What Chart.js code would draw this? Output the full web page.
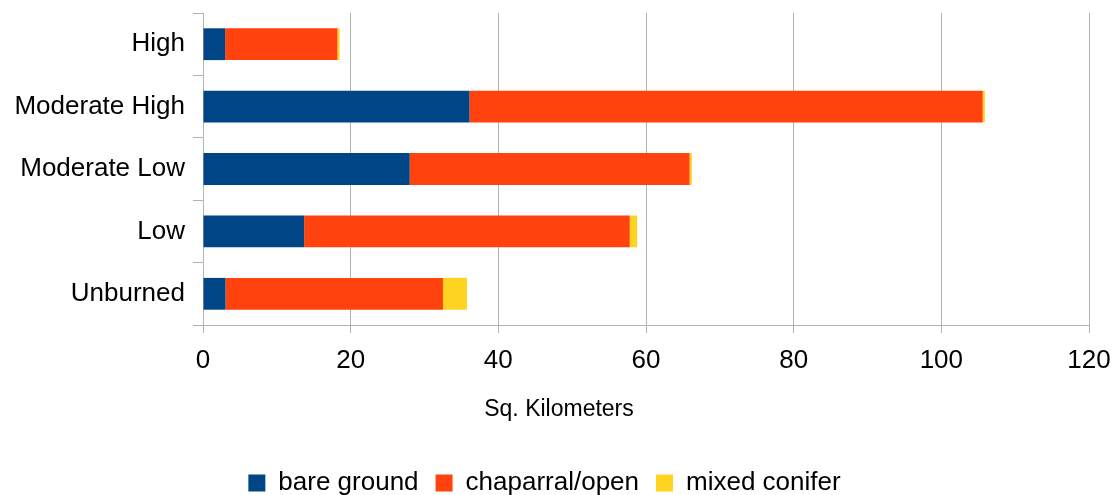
<!DOCTYPE html>
<html>
<head>
<meta charset="utf-8">
<script src="https://cdn.jsdelivr.net/npm/chart.js@4/dist/chart.umd.min.js"></script>
<style>
  html, body { margin: 0; padding: 0; background: #fff; }
  #wrap { width: 1118px; height: 495px; }
</style>
</head>
<body>
<div id="wrap"><canvas id="burnChart" width="1118" height="495"></canvas></div>
<script>
// severity classes, top to bottom
const categories = ['High', 'Moderate High', 'Moderate Low', 'Low', 'Unburned'];
const bareGround = [3.0, 36.1, 28.0, 13.7, 3.05];
const chaparral = [15.2, 69.5, 37.9, 44.1, 29.45];
const mixedConifer = [0.3, 0.3, 0.3, 1.0, 3.25];
const xTicks = [0, 20, 40, 60, 80, 100, 120];
const xTitle = 'Sq. Kilometers';

const gridGray = '#b3b3b3';
const font = 'Liberation Sans, Arial, sans-serif';

// axis title sits centred on the whole canvas, not on the plot
const xTitlePlugin = {
    id: 'xTitle',
    beforeLayout(chart) {
        // keep the wide item spacing but a shorter legend box
        const lg = chart.legend;
        if (lg && !lg._fixedHeight) {
            const fit = lg.fit.bind(lg);
            lg.fit = function () { fit(); this.height = 42; };
            lg._fixedHeight = true;
        }
    },
    afterDraw(chart) {
        const ctx = chart.ctx;
        ctx.save();
        ctx.fillStyle = '#000';
        ctx.font = '23px ' + font;
        ctx.textAlign = 'center';
        ctx.textBaseline = 'middle';
        ctx.fillText(xTitle, chart.width / 2, 410);
        ctx.restore();
    }
};

new Chart(document.getElementById('burnChart'), {
    type: 'bar',
    data: {
        labels: categories,
        datasets: [
            { label: 'bare ground', data: bareGround, backgroundColor: '#004586' },
            { label: 'chaparral/open', data: chaparral, backgroundColor: '#ff420e' },
            { label: 'mixed conifer', data: mixedConifer, backgroundColor: '#ffd320' }
        ]
    },
    plugins: [xTitlePlugin],
    options: {
        indexAxis: 'y',
        responsive: false,
        animation: false,
        barPercentage: 0.51,
        categoryPercentage: 1,
        layout: { padding: { top: 13, right: 29, bottom: 0, left: 0 } },
        scales: {
            x: {
                stacked: true,
                min: 0,
                max: 120,
                afterBuildTicks: (scale) => { scale.ticks = xTicks.map(v => ({ value: v })); },
                afterFit: (scale) => {
                    scale.height = 128;
                    scale.paddingLeft = 0;
                    scale.paddingRight = 0;
                },
                grid: { color: gridGray, tickLength: 8, lineWidth: 1 },
                border: { color: gridGray },
                ticks: { color: '#000', padding: 12, font: { family: font, size: 26 } }
            },
            y: {
                stacked: true,
                afterFit: (scale) => {
                    scale.width = 203;
                    scale.paddingTop = 0;
                    scale.paddingBottom = 0;
                },
                grid: { drawOnChartArea: false, color: gridGray, tickLength: 10 },
                border: { color: gridGray },
                ticks: { color: '#000', padding: 8, font: { family: font, size: 26 } }
            }
        },
        plugins: {
            tooltip: { enabled: false },
            legend: {
                position: 'bottom',
                labels: {
                    color: '#000',
                    boxWidth: 17,
                    boxHeight: 17,
                    padding: 17,
                    font: { family: font, size: 26 }
                }
            }
        }
    }
});
</script>
</body>
</html>
